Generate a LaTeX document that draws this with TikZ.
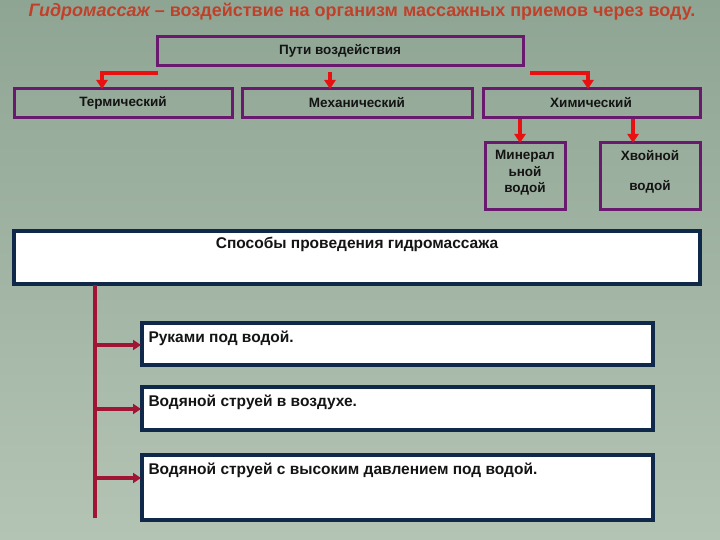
\documentclass[tikz,border=0pt]{standalone}
\usepackage{fontspec}
\setmainfont{Liberation Sans}
\usetikzlibrary{arrows.meta}
\definecolor{bgtop}{HTML}{8FA594}
\definecolor{bgbot}{HTML}{B4C4B4}
\definecolor{purp}{HTML}{6A1A6E}
\definecolor{navy}{HTML}{10284A}
\definecolor{redA}{HTML}{E81010}
\definecolor{redB}{HTML}{A01434}
\definecolor{titlec}{HTML}{C0402A}
\definecolor{txt}{HTML}{141414}
\tikzset{
  pbox/.style={draw=purp,line width=3pt},
  wbox/.style={draw=navy,line width=3.2pt,fill=white},
  ptxt/.style={text=txt,font=\bfseries\fontsize{13.5}{15}\selectfont},
  wtxt/.style={text=txt,font=\bfseries\fontsize{15.5}{17}\selectfont},
  rarr/.style={draw=redA,line width=3.2pt,-{Triangle[length=9pt,width=11pt]}},
  barr/.style={draw=redB,line width=3.2pt,-{Triangle[length=8pt,width=10pt]}},
}
\begin{document}
\begin{tikzpicture}[x=1pt,y=-1pt]
\shade[top color=bgtop,bottom color=bgbot] (0,0) rectangle (720,540);
\useasboundingbox (0,0) rectangle (720,540);
\node[text=titlec,font=\bfseries\fontsize{18}{20}\selectfont] (title) at (362,12) {\itshape Гидромассаж\upshape{} – воздействие на организм массажных приемов через воду.};
% top boxes
\draw[pbox] (157,37) rectangle (523,66);
\node[ptxt] (puti) at (340,51) {Пути воздействия};
\draw[pbox] (14,89) rectangle (232,118);
\node[ptxt] (term) at (123,103) {Термический};
\draw[pbox] (242,89) rectangle (472,118);
\node[ptxt] (mech) at (357,103) {Механический};
\draw[pbox] (483,89) rectangle (700,118);
\node[ptxt] (chem) at (591,103) {Химический};
\draw[pbox] (485,143) rectangle (565,210);
\node[ptxt,align=center] (min) at (525,173) {Минерал\\[1.5pt]ьной\\[1.5pt]водой};
\draw[pbox] (600,143) rectangle (700,210);
\node[ptxt] (hv1) at (650,156) {Хвойной};
\node[ptxt] (hv2) at (650,187) {водой};
% red arrows
\coordinate (a1) at (158,73); \coordinate (a1b) at (102,73); \coordinate (a1e) at (102,89);
\draw[rarr] (a1) -- (a1b) -- (a1e);
\coordinate (a2) at (330,72); \coordinate (a2e) at (330,89);
\draw[rarr] (a2) -- (a2e);
\coordinate (a3) at (530,73); \coordinate (a3b) at (588,73); \coordinate (a3e) at (588,89);
\draw[rarr] (a3) -- (a3b) -- (a3e);
\coordinate (c1) at (520,119); \coordinate (c1e) at (520,143);
\draw[rarr] (c1) -- (c1e);
\coordinate (c2) at (633,119); \coordinate (c2e) at (633,143);
\draw[rarr] (c2) -- (c2e);
% bottom
\draw[wbox] (14,231) rectangle (700,284);
\node[wtxt] (spos) at (357,244) {Способы проведения гидромассажа};
\draw[wbox] (142,323) rectangle (653,365);
\node[wtxt,anchor=west] (b1) at (145,338) {Руками под водой.};
\draw[wbox] (142,387) rectangle (653,430);
\node[wtxt,anchor=west] (b2) at (145,402) {Водяной струей в воздухе.};
\draw[wbox] (142,455) rectangle (653,520);
\node[wtxt,anchor=west] (b3) at (145,470) {Водяной струей с высоким давлением под водой.};
\coordinate (v0) at (95,285); \coordinate (v1) at (95,518);
\draw[redB,line width=3.2pt] (v0) -- (v1);
\coordinate (h1) at (95,345); \coordinate (h1e) at (141,345);
\coordinate (h2) at (95,409); \coordinate (h2e) at (141,409);
\coordinate (h3) at (95,478); \coordinate (h3e) at (141,478);
\draw[barr] (h1) -- (h1e);
\draw[barr] (h2) -- (h2e);
\draw[barr] (h3) -- (h3e);
\end{tikzpicture}
\end{document}
